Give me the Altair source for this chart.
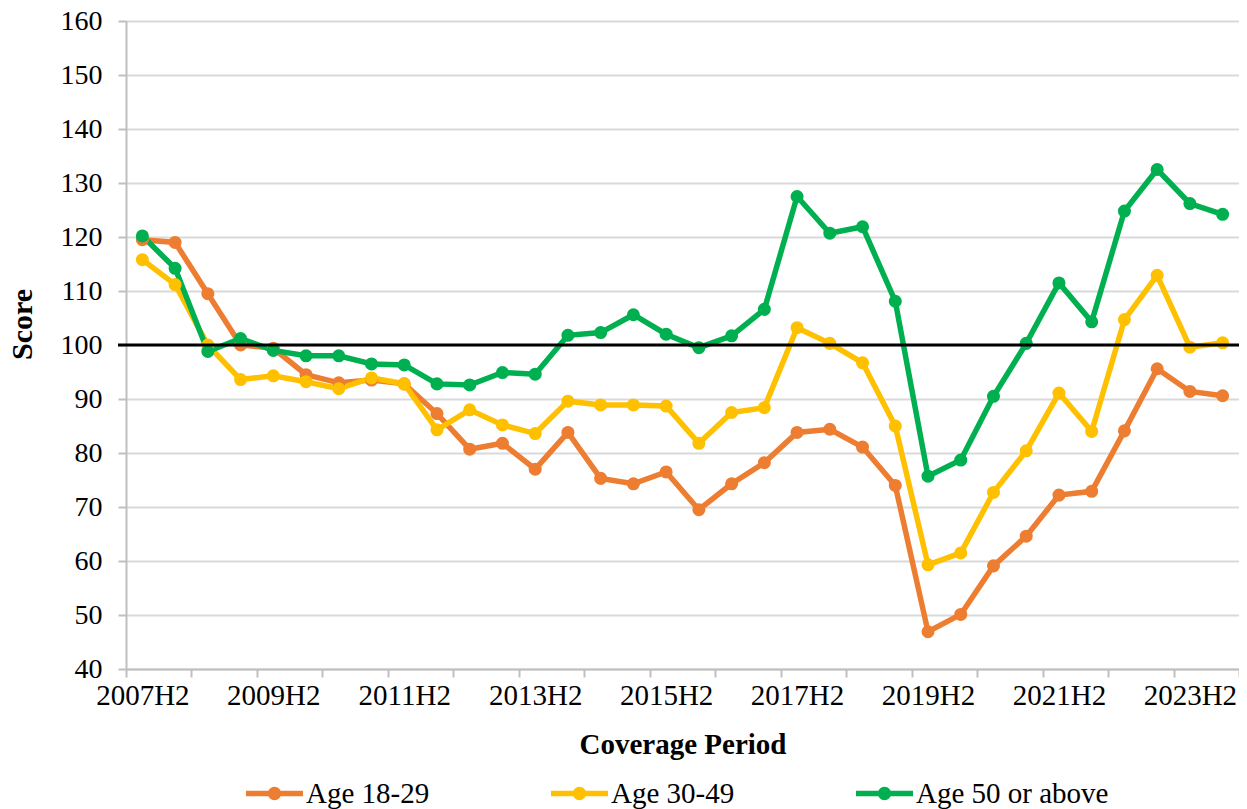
import altair as alt
import pandas as pd

periods = []
for y in range(2007, 2025):
    for h in ("H1", "H2"):
        p = f"{y}{h}"
        if "2007H2" <= p <= "2024H1":
            periods.append(p)

series_names = ["Age 18-29", "Age 30-49", "Age 50 or above"]
series_colors = ["#ED7D31", "#FFC000", "#00B050"]

age_18_29 = [119.5, 119.0, 109.5, 100.0, 99.4, 94.5, 93.0, 93.5, 92.8, 87.3,
             80.7, 81.8, 77.0, 83.8, 75.3, 74.3, 76.5, 69.5, 74.3, 78.2,
             83.8, 84.4, 81.1, 74.0, 46.9, 50.1, 59.1, 64.6, 72.2, 72.9,
             84.1, 95.6, 91.4, 90.6]
age_30_49 = [115.8, 111.2, 100.0, 93.6, 94.3, 93.2, 91.9, 93.9, 92.8, 84.3,
             88.0, 85.2, 83.6, 89.6, 88.9, 88.9, 88.7, 81.8, 87.5, 88.4,
             103.2, 100.3, 96.7, 85.0, 59.3, 61.5, 72.7, 80.4, 91.1, 84.0,
             104.7, 112.9, 99.6, 100.4]
age_50_plus = [120.2, 114.2, 98.8, 101.2, 99.0, 98.0, 98.0, 96.5, 96.3, 92.8,
               92.6, 94.9, 94.6, 101.8, 102.3, 105.6, 102.0, 99.5, 101.7, 106.6,
               127.5, 120.7, 121.9, 108.1, 75.7, 78.7, 90.5, 100.3, 111.5, 104.3,
               124.8, 132.5, 126.2, 124.2]

reference_value = 100
y_ticks = list(range(40, 161, 10))

rows = []
for name, vals in zip(series_names, [age_18_29, age_30_49, age_50_plus]):
    for i, (p, v) in enumerate(zip(periods, vals)):
        rows.append({"period": p, "idx": i, "series": name, "value": v})
df = pd.DataFrame(rows)

n = len(periods)
W, H = 1113, 648
band = W / n

tick_vals = [i - 0.5 for i in range(0, n + 1, 2)]
label_parts = []
for i in range(0, n, 4):
    label_parts.append(f"datum.value == {i - 0.5} ? '{periods[i]}'")
label_expr = " : ".join(label_parts) + " : ''"

FONT = "Liberation Serif"

color_scale = alt.Scale(domain=series_names, range=series_colors)

# stroked legend glyph: a line with a dot in the middle (unit = 28.5 px)
sym_path = ("M-1,0L1,0 "
            "M-0.14,0A0.14,0.14 0 1,1 0.14,0A0.14,0.14 0 1,1 -0.14,0 "
            "M-0.045,0A0.045,0.045 0 1,1 0.045,0A0.045,0.045 0 1,1 -0.045,0")

legend = alt.Legend(
    title=None, orient="none", direction="horizontal", columns=3,
    legendX=117, legendY=741, gridAlign="none", columnPadding=110,
    padding=0,
    symbolType=sym_path, symbolSize=3249, symbolStrokeWidth=5.5,
    symbolOpacity=1,
    labelFont=FONT, labelFontSize=29, labelColor="black", labelOffset=0,
    labelLimit=400,
)

x_enc = alt.X(
    "idx:Q",
    scale=alt.Scale(domain=[-0.5, n - 0.5], nice=False, zero=False),
    axis=alt.Axis(
        values=tick_vals, labelExpr=label_expr, labelOffset=band / 2,
        labelOverlap=False, labelFlush=False, grid=False,
        title="Coverage Period", titleFont=FONT, titleFontSize=29,
        titleFontWeight="bold", titleColor="black", titlePadding=20,
        labelFont=FONT, labelFontSize=29, labelColor="black", labelPadding=4,
        tickSize=8, tickColor="#BFBFBF", tickWidth=2,
        domainColor="#BFBFBF", domainWidth=2,
    ),
)
y_enc = alt.Y(
    "value:Q",
    scale=alt.Scale(domain=[40, 160], nice=False, zero=False),
    axis=alt.Axis(
        values=y_ticks, grid=True, gridColor="#D9D9D9", gridWidth=2,
        title="Score", titleFont=FONT, titleFontSize=30, titleFontWeight="bold",
        titleColor="black", titlePadding=23, titleY=303,
        labelFont=FONT, labelFontSize=28, labelColor="black", labelPadding=16,
        tickSize=8, tickColor="#BFBFBF", tickWidth=2,
        domainColor="#BFBFBF", domainWidth=2,
    ),
)

color_enc = alt.Color("series:N", scale=color_scale, legend=legend,
                      sort=series_names)

base = alt.Chart(df)
lines = base.mark_line(strokeWidth=5.5).encode(
    x=x_enc, y=y_enc, color=color_enc, detail="series:N",
)
points = base.mark_point(filled=True, size=170, opacity=1).encode(
    x=x_enc, y=y_enc, color=color_enc,
)
ref = alt.Chart(pd.DataFrame({"v": [reference_value]})).mark_rule(
    color="black", strokeWidth=3
).encode(y="v:Q", x=alt.value(-8), x2=alt.value(W))

chart = alt.layer(lines, points, ref).properties(
    width=W, height=H,
    autosize=alt.AutoSizeParams(type="none"),
    padding={"left": 118, "top": 13, "right": 0, "bottom": 140},
).configure_view(stroke=None).configure(background="white")

chart.save("out.html", embed_options={"renderer": "svg", "actions": False})
